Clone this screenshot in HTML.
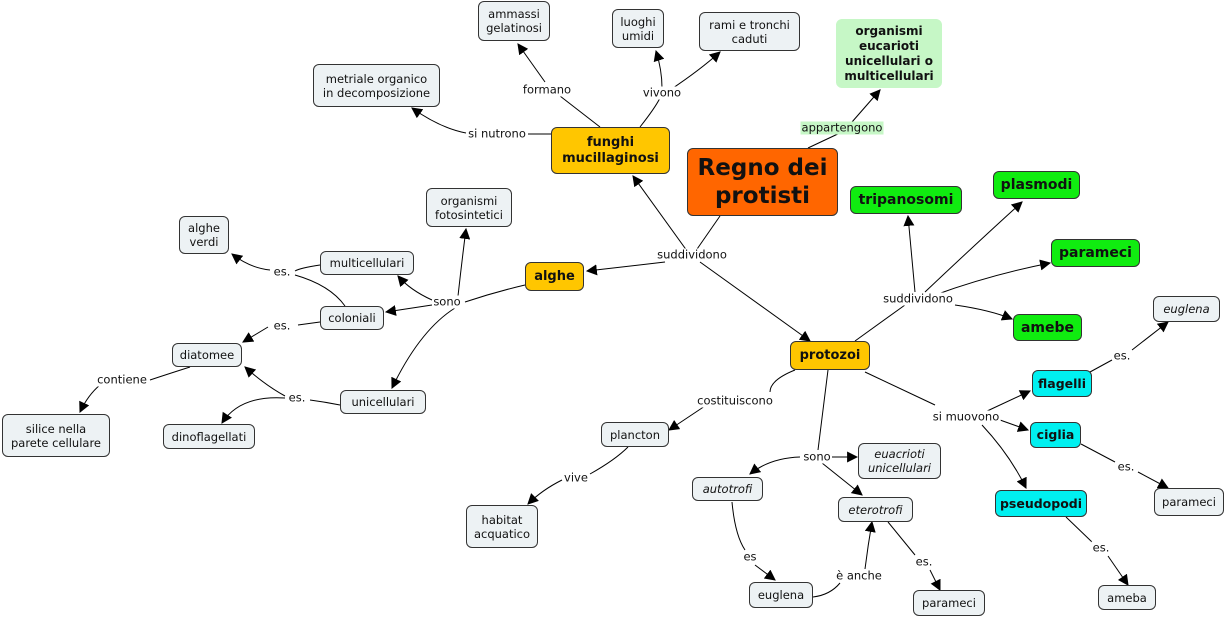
<!DOCTYPE html>
<html><head><meta charset="utf-8"><style>
body{margin:0;width:1226px;height:621px;background:#fff;position:relative;overflow:hidden;font-family:"DejaVu Sans","Liberation Sans",sans-serif;}
.n{position:absolute;box-sizing:border-box;border:1px solid #333;border-radius:6px;background:#edf2f4;display:flex;align-items:center;justify-content:center;text-align:center;font-size:11.5px;line-height:14px;color:#111;}
.b{font-weight:bold;font-size:13px;line-height:16px;}
.o{background:#ffc600;}
.g{background:#10ec10;font-size:14px;}
.c{background:#00f0f0;font-size:12.5px;}
.i{font-style:italic;}
.l{position:absolute;font-size:11.5px;background:#fff;transform:translate(-50%,-50%);white-space:nowrap;line-height:13px;color:#111;padding:0 1px;}
svg{position:absolute;left:0;top:0;}
</style></head><body>
<svg width="1226" height="621">
<defs><marker id="a" viewBox="0 0 10 10" refX="9" refY="5" markerWidth="11" markerHeight="11" orient="auto-start-reverse" markerUnits="userSpaceOnUse"><path d="M0,0 L10,5 L0,10 z" fill="#000"/></marker></defs>
<g stroke="#000" stroke-width="1" fill="none">
<path d="M720,216 L695,252"/><path d="M690,255 L633,176" marker-end="url(#a)"/><path d="M665,262 L587,271" marker-end="url(#a)"/><path d="M700,262 L810,341" marker-end="url(#a)"/>
<path d="M808,148 L842,132"/><path d="M852,122 L880,90" marker-end="url(#a)"/>
<path d="M551,134 L528,134"/><path d="M466,133 Q440,128 412,108" marker-end="url(#a)"/>
<path d="M600,127 L560,96"/><path d="M545,82 L518,44" marker-end="url(#a)"/>
<path d="M640,127 Q655,108 660,98"/><path d="M662,88 Q662,70 656,51" marker-end="url(#a)"/><path d="M670,90 Q700,70 720,52" marker-end="url(#a)"/>
<path d="M525,285 Q495,292 465,302"/><path d="M458,296 Q462,260 466,229" marker-end="url(#a)"/><path d="M432,300 Q410,290 398,276" marker-end="url(#a)"/><path d="M432,305 L386,312" marker-end="url(#a)"/><path d="M455,308 Q420,330 392,388" marker-end="url(#a)"/>
<path d="M320,265 Q300,268 295,271"/><path d="M270,270 Q250,268 232,254" marker-end="url(#a)"/><path d="M345,306 Q330,285 295,275"/>
<path d="M320,322 L298,325"/><path d="M268,327 L243,342" marker-end="url(#a)"/>
<path d="M340,405 Q325,402 310,400"/><path d="M285,396 Q265,385 245,367" marker-end="url(#a)"/><path d="M285,398 Q240,395 222,423" marker-end="url(#a)"/>
<path d="M190,367 Q165,375 150,380"/><path d="M100,385 Q88,395 80,412" marker-end="url(#a)"/>
<path d="M855,341 L905,305"/><path d="M915,292 L908,216" marker-end="url(#a)"/><path d="M925,292 Q980,240 1022,202" marker-end="url(#a)"/><path d="M935,295 Q990,275 1050,263" marker-end="url(#a)"/><path d="M955,305 Q990,310 1012,319" marker-end="url(#a)"/>
<path d="M795,370 Q770,380 770,392"/><path d="M705,406 L669,430" marker-end="url(#a)"/>
<path d="M828,370 L818,450"/><path d="M832,457 L857,457" marker-end="url(#a)"/><path d="M800,457 Q770,458 750,474" marker-end="url(#a)"/><path d="M822,463 L862,495" marker-end="url(#a)"/>
<path d="M865,372 L935,405"/><path d="M985,412 L1030,391" marker-end="url(#a)"/><path d="M1000,420 L1028,430" marker-end="url(#a)"/><path d="M982,425 Q1010,455 1026,488" marker-end="url(#a)"/>
<path d="M1090,372 L1112,360"/><path d="M1132,350 L1168,322" marker-end="url(#a)"/>
<path d="M1081,444 L1115,462"/><path d="M1138,472 L1168,488" marker-end="url(#a)"/>
<path d="M1066,517 L1092,542"/><path d="M1108,556 L1128,585" marker-end="url(#a)"/>
<path d="M628,447 Q615,460 590,474"/><path d="M562,480 Q542,490 528,504" marker-end="url(#a)"/>
<path d="M732,502 Q735,535 745,550"/><path d="M755,565 L775,580" marker-end="url(#a)"/>
<path d="M813,597 Q830,595 840,583"/><path d="M865,569 Q868,545 872,522" marker-end="url(#a)"/>
<path d="M888,522 L915,555"/><path d="M930,570 L940,590" marker-end="url(#a)"/>
</g></svg>
<div class="n" style="left:478px;top:1px;width:72px;height:40px">ammassi<br>gelatinosi</div>
<div class="n" style="left:612px;top:9px;width:52px;height:39px">luoghi<br>umidi</div>
<div class="n" style="left:699px;top:12px;width:101px;height:39px">rami e tronchi<br>caduti</div>
<div class="n b" style="left:836px;top:19px;width:106px;height:69px;background:#c6f7c6;border-color:#c6f7c6;font-size:12px;line-height:15px">organismi<br>eucarioti<br>unicellulari o<br>multicellulari</div>
<div class="n" style="left:313px;top:64px;width:127px;height:43px">metriale organico<br>in decomposizione</div>
<div class="n b o" style="left:551px;top:127px;width:119px;height:47px">funghi<br>mucillaginosi</div>
<div class="n b" style="left:687px;top:148px;width:151px;height:68px;background:#ff6600;font-size:23px;line-height:28px">Regno dei<br>protisti</div>
<div class="n b g" style="left:850px;top:186px;width:112px;height:28px">tripanosomi</div>
<div class="n b g" style="left:993px;top:171px;width:87px;height:28px">plasmodi</div>
<div class="n b g" style="left:1051px;top:239px;width:89px;height:28px">parameci</div>
<div class="n b g" style="left:1013px;top:314px;width:69px;height:27px">amebe</div>
<div class="n" style="left:426px;top:188px;width:86px;height:39px">organismi<br>fotosintetici</div>
<div class="n" style="left:179px;top:216px;width:50px;height:38px">alghe<br>verdi</div>
<div class="n" style="left:320px;top:251px;width:94px;height:24px">multicellulari</div>
<div class="n b o" style="left:525px;top:262px;width:59px;height:29px">alghe</div>
<div class="n" style="left:320px;top:306px;width:64px;height:24px">coloniali</div>
<div class="n" style="left:172px;top:343px;width:70px;height:24px">diatomee</div>
<div class="n" style="left:340px;top:390px;width:86px;height:24px">unicellulari</div>
<div class="n" style="left:2px;top:414px;width:108px;height:43px">silice nella<br>parete cellulare</div>
<div class="n" style="left:163px;top:424px;width:92px;height:25px">dinoflagellati</div>
<div class="n b o" style="left:790px;top:341px;width:80px;height:29px">protozoi</div>
<div class="n i" style="left:1153px;top:296px;width:67px;height:26px">euglena</div>
<div class="n b c" style="left:1032px;top:370px;width:60px;height:27px">flagelli</div>
<div class="n b c" style="left:1030px;top:422px;width:51px;height:26px">ciglia</div>
<div class="n b c" style="left:995px;top:490px;width:92px;height:27px">pseudopodi</div>
<div class="n" style="left:1154px;top:488px;width:70px;height:28px">parameci</div>
<div class="n" style="left:601px;top:422px;width:68px;height:25px">plancton</div>
<div class="n i" style="left:858px;top:443px;width:83px;height:36px">euacrioti<br>unicellulari</div>
<div class="n i" style="left:692px;top:477px;width:71px;height:24px">autotrofi</div>
<div class="n i" style="left:838px;top:497px;width:75px;height:25px">eterotrofi</div>
<div class="n" style="left:466px;top:505px;width:72px;height:43px">habitat<br>acquatico</div>
<div class="n" style="left:749px;top:582px;width:64px;height:26px">euglena</div>
<div class="n" style="left:913px;top:590px;width:72px;height:26px">parameci</div>
<div class="n" style="left:1098px;top:585px;width:58px;height:25px">ameba</div>
<span class="l" style="left:692px;top:255px">suddividono</span>
<span class="l" style="left:842px;top:128px;background:#c6f7c6">appartengono</span>
<span class="l" style="left:497px;top:134px">si nutrono</span>
<span class="l" style="left:547px;top:90px">formano</span>
<span class="l" style="left:662px;top:93px">vivono</span>
<span class="l" style="left:447px;top:302px">sono</span>
<span class="l" style="left:282px;top:272px">es.</span>
<span class="l" style="left:282px;top:326px">es.</span>
<span class="l" style="left:297px;top:398px">es.</span>
<span class="l" style="left:122px;top:380px">contiene</span>
<span class="l" style="left:918px;top:299px">suddividono</span>
<span class="l" style="left:735px;top:401px">costituiscono</span>
<span class="l" style="left:817px;top:457px">sono</span>
<span class="l" style="left:966px;top:417px">si muovono</span>
<span class="l" style="left:1122px;top:356px">es.</span>
<span class="l" style="left:1126px;top:467px">es.</span>
<span class="l" style="left:1101px;top:548px">es.</span>
<span class="l" style="left:576px;top:478px">vive</span>
<span class="l" style="left:750px;top:557px">es</span>
<span class="l" style="left:859px;top:576px">è anche</span>
<span class="l" style="left:924px;top:562px">es.</span>
</body></html>
